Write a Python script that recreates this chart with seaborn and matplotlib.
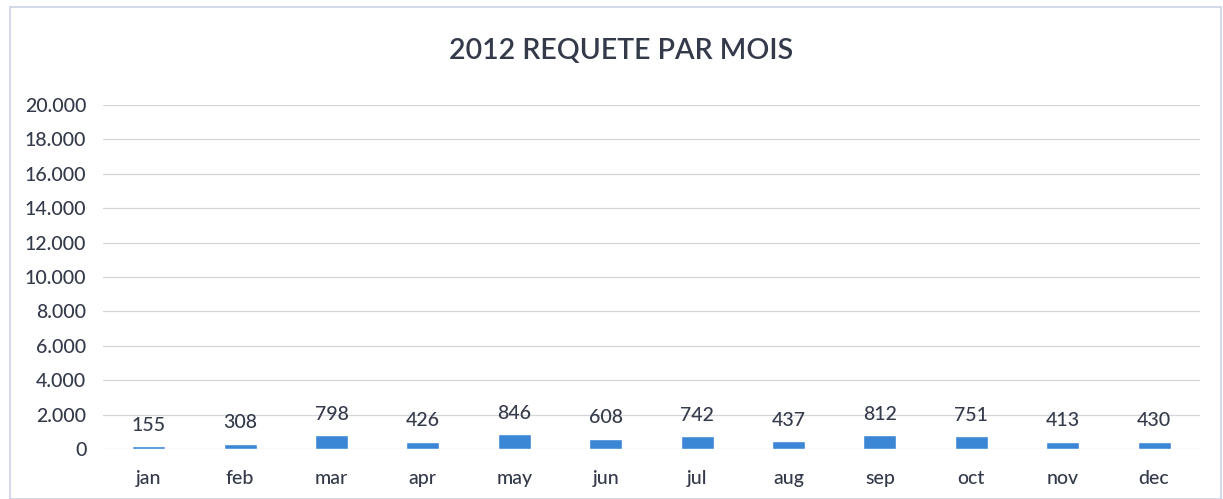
import matplotlib
matplotlib.use("Agg")
import matplotlib.pyplot as plt
import matplotlib.patches as mpatches
from matplotlib.ticker import FuncFormatter
import seaborn as sns
import pandas as pd

months = ["jan", "feb", "mar", "apr", "may", "jun", "jul", "aug", "sep", "oct", "nov", "dec"]
requests = [155, 308, 798, 426, 846, 608, 742, 437, 812, 751, 413, 430]
title = "2012 REQUETE PAR MOIS"

sns.set_theme(style="white")
plt.rcParams["font.family"] = ["Lato", "DejaVu Sans"]

df = pd.DataFrame({"month": months, "requests": requests})

fig = plt.figure(figsize=(12.23, 4.99), dpi=100)
ax = fig.add_axes([0.0842, 0.1002, 0.8968, 0.6894])

sns.barplot(data=df, x="month", y="requests", color="#3b87d6", width=0.36,
            saturation=1, ax=ax)

text_col = "#343a4a"
ax.set_ylim(0, 20000)
ax.set_yticks(range(0, 20001, 2000))
ax.yaxis.set_major_formatter(FuncFormatter(lambda v, p: f"{int(v):,}".replace(",", ".")))
ax.grid(axis="y", color="#d4d6dc", linewidth=0.9)
ax.set_axisbelow(True)
for s in ax.spines.values():
    s.set_visible(False)
ax.tick_params(axis="y", labelsize=14, colors=text_col, length=0, pad=12)
ax.tick_params(axis="x", labelsize=14, colors=text_col, length=0, pad=15)
for t in ax.get_xticklabels() + ax.get_yticklabels():
    t.set_fontweight("medium")
ax.set_xlabel("")
ax.set_ylabel("")
ax.set_xlim(-0.5, 11.5)

for c in ax.containers:
    ax.bar_label(c, labels=[str(v) for v in requests], padding=9,
                 fontsize=14, color=text_col, fontweight="medium")

fig.text(0.508, 0.897, title, ha="center", va="center", fontsize=20.5,
         color=text_col, fontweight="semibold")

fig.patches.append(mpatches.Rectangle((0.008, 0.0), 0.99, 0.985, transform=fig.transFigure,
                                      fill=False, edgecolor="#c9d3e6", linewidth=1.2))

fig.savefig("out.png", dpi=100)
